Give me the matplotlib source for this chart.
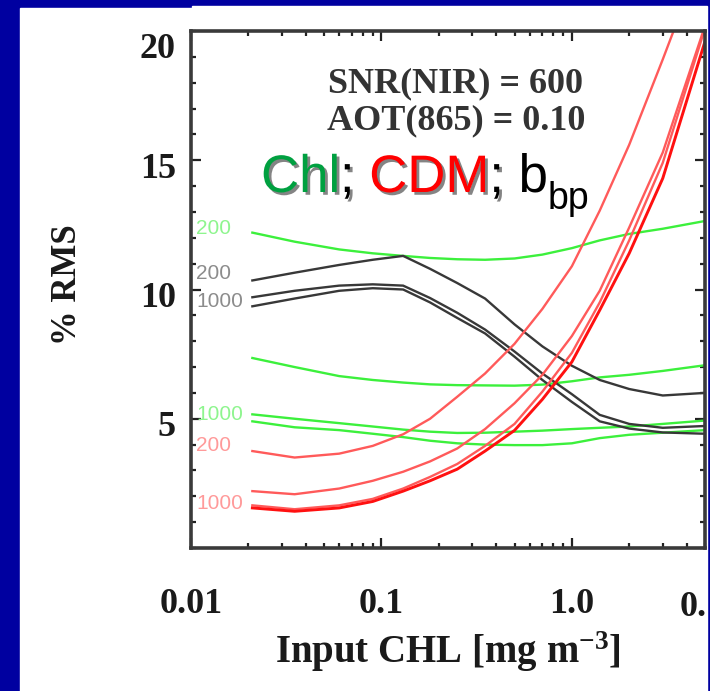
import matplotlib
matplotlib.use("Agg")
import matplotlib.pyplot as plt
import matplotlib.patheffects as pe
from matplotlib.patches import Rectangle
from matplotlib.ticker import FixedLocator, LogLocator, NullFormatter, MultipleLocator
from matplotlib.transforms import blended_transform_factory, offset_copy

plt.rcParams["mathtext.fontset"] = "custom"
plt.rcParams["mathtext.rm"] = "Liberation Serif:bold"
plt.rcParams["mathtext.it"] = "Liberation Serif:bold"
plt.rcParams["mathtext.bf"] = "Liberation Serif:bold"

# ---------------- data ----------------
chl = [0.021, 0.035, 0.06, 0.09, 0.13, 0.18, 0.25, 0.35, 0.5, 0.7, 1.0, 1.4, 2.0, 3.0, 5.0]

chl_200 = [12.2, 11.85, 11.55, 11.4, 11.3, 11.22, 11.17, 11.15, 11.2, 11.35, 11.6, 11.9, 12.15, 12.35, 12.65]
chl_b = [7.35, 7.0, 6.65, 6.5, 6.4, 6.33, 6.3, 6.29, 6.28, 6.32, 6.45, 6.6, 6.7, 6.85, 7.07]
chl_c = [5.17, 5.0, 4.83, 4.7, 4.58, 4.5, 4.45, 4.46, 4.5, 4.54, 4.6, 4.65, 4.7, 4.8, 4.93]
chl_1000 = [4.9, 4.67, 4.56, 4.42, 4.29, 4.15, 4.05, 4.0, 3.98, 3.98, 4.05, 4.25, 4.38, 4.46, 4.56]

bbp_200 = [10.35, 10.65, 10.95, 11.15, 11.3, 10.8, 10.25, 9.65, 8.65, 7.8, 7.05, 6.5, 6.15, 5.9, 6.0]
bbp_b = [9.7, 9.95, 10.15, 10.2, 10.15, 9.67, 9.1, 8.45, 7.6, 6.75, 5.95, 5.15, 4.8, 4.65, 4.72]
bbp_1000 = [9.35, 9.65, 9.95, 10.05, 10.0, 9.5, 8.9, 8.3, 7.4, 6.5, 5.65, 4.9, 4.62, 4.47, 4.42]

cdm_200 = [3.75, 3.5, 3.65, 3.95, 4.4, 5.0, 5.85, 6.75, 7.9, 9.25, 10.9, 13.05, 15.6, 18.9, 23.2]
cdm_b = [2.2, 2.08, 2.3, 2.6, 2.95, 3.35, 3.85, 4.6, 5.6, 6.7, 8.2, 9.95, 12.4, 15.3, 20.2]
cdm_c = [1.65, 1.5, 1.65, 1.9, 2.3, 2.75, 3.25, 3.95, 4.8, 6.05, 7.55, 9.5, 11.9, 14.9, 20.1]
cdm_1000 = [1.55, 1.42, 1.55, 1.8, 2.2, 2.6, 3.05, 3.75, 4.55, 5.75, 7.2, 9.2, 11.4, 14.3, 19.6]

xticks = [0.01, 0.1, 1.0]
xticklabels = ["0.01", "0.1", "1.0"]
yticks = [5, 10, 15, 20]
yticklabels = ["5", "10", "15", "20"]

# labels next to curve starts: (text, y, color)
curve_labels = [
    ("200", 12.35, "#8ef58e"),
    ("200", 10.6, "#8c8c8c"),
    ("1000", 9.55, "#8c8c8c"),
    ("1000", 5.15, "#8ef58e"),
    ("200", 3.95, "#ff9a9a"),
    ("1000", 1.72, "#ff9a9a"),
]

# ---------------- figure ----------------
W, H = 710, 691
fig = plt.figure(figsize=(W / 100, H / 100), dpi=100)
fig.patch.set_facecolor("#0000a0")
fig.add_artist(Rectangle((20 / W, 0), (192 - 20) / W, (H - 8) / H,
                         transform=fig.transFigure, color="white", zorder=0))
fig.add_artist(Rectangle((192 / W, 0), (707 - 192) / W, (H - 6) / H,
                         transform=fig.transFigure, color="white", zorder=0))

L, R, T, B = 191, 705, 31, 548
ax = fig.add_axes([L / W, 1 - B / H, (R - L) / W, (B - T) / H])
ax.set_facecolor("white")

green = "#3cf03c"
dark = "#383838"
red_l = "#ff5a5a"
red_b = "#ff1010"
lw = 1.7

for ys in (chl_200, chl_b, chl_c, chl_1000):
    ax.plot(chl, ys, color=green, lw=lw, solid_joinstyle="round")
for ys in (bbp_200, bbp_b, bbp_1000):
    ax.plot(chl, ys, color=dark, lw=lw, solid_joinstyle="round")
ax.plot(chl, cdm_200, color=red_l, lw=lw, solid_joinstyle="round")
ax.plot(chl, cdm_b, color=red_l, lw=lw, solid_joinstyle="round")
ax.plot(chl, cdm_c, color=red_l, lw=lw, solid_joinstyle="round")
ax.plot(chl, cdm_1000, color=red_b, lw=lw + 0.4, solid_joinstyle="round")

ax.set_xscale("log")
ax.set_xlim(0.01, 5)
ax.set_ylim(0, 20)

ax.xaxis.set_major_locator(FixedLocator(xticks))
ax.xaxis.set_minor_locator(LogLocator(base=10, subs=range(2, 10)))
ax.xaxis.set_minor_formatter(NullFormatter())
ax.set_xticklabels(xticklabels)
ax.yaxis.set_major_locator(FixedLocator(yticks[:-1]))
ax.yaxis.set_minor_locator(MultipleLocator(1))

ax.tick_params(which="both", direction="in", top=True, right=True,
               color="#222222", width=1.6)
ax.tick_params(which="major", length=7)
ax.tick_params(which="minor", length=3.5)
ax.tick_params(axis="x", which="major", pad=29, labelsize=26)
ax.tick_params(axis="y", labelleft=False)
for lbl in ax.get_xticklabels():
    lbl.set_fontfamily("Liberation Serif")
    lbl.set_fontweight("bold")
    lbl.set_color("#1a1a1a")

for s in ax.spines.values():
    s.set_linewidth(2.6)
    s.set_color("#3a3a3a")

serif = dict(family="Liberation Serif", weight="bold", color="#1a1a1a")

# y tick labels
ytrans = blended_transform_factory(ax.transAxes, ax.transData)
for v, t in zip(yticks, yticklabels):
    dy = -14 if v == 20 else -5
    tr = offset_copy(ytrans, fig=fig, x=0, y=dy, units="dots")
    ax.text(-15 / (R - L), v, t, transform=tr, ha="right", va="center_baseline",
            fontsize=26, clip_on=False, **serif)

# truncated last x label
fig.text(680 / W, 1 - 603 / H, "0.", ha="left", va="center_baseline",
         fontsize=26, **serif)

ax.set_xlabel(r"Input CHL [mg m$^{\mathrm{-3}}$]", fontsize=28, labelpad=6, **serif)
fig.text(68 / W, 1 - 285 / H, "% RMS", rotation=90, ha="center", va="center",
         fontsize=25, **serif)

# annotations
ax.text((456 - L) / (R - L), 1 - (84 - T) / (B - T), "SNR(NIR) = 600",
        transform=ax.transAxes, ha="center", va="center", fontsize=26,
        family="Liberation Serif", weight="bold", color="#333333")
ax.text((456 - L) / (R - L), 1 - (121 - T) / (B - T), "AOT(865) = 0.10",
        transform=ax.transAxes, ha="center", va="center", fontsize=26,
        family="Liberation Serif", weight="bold", color="#333333")

shadow = [pe.SimplePatchShadow(offset=(2, -2), shadow_rgbFace="#202020", alpha=0.55),
          pe.Normal()]
sans = dict(family="Liberation Sans", fontsize=38)
t1 = ax.text((261 - L) / (R - L), 1 - (192 - T) / (B - T), "Chl",
             transform=ax.transAxes, ha="left", va="baseline", color="#00a040",
             path_effects=shadow, **sans)
t2 = ax.annotate(";", xy=(1, 0), xycoords=t1, ha="left", va="bottom",
                 color="black", path_effects=shadow, **sans)
t3 = ax.annotate(" CDM", xy=(1, 0), xycoords=t2, ha="left", va="bottom",
                 color="#ff0000", path_effects=shadow, **sans)
t4 = ax.annotate(";", xy=(1, 0), xycoords=t3, ha="left", va="bottom",
                 color="black", path_effects=shadow, **sans)
t5 = ax.annotate(" b", xy=(1, 0), xycoords=t4, ha="left", va="bottom",
                 color="black", **sans)
t6 = ax.annotate("bp", xy=(1, 0), xycoords=t5, xytext=(0, -10),
                 textcoords="offset points", ha="left", va="bottom",
                 color="black", family="Liberation Sans", fontsize=27)

for txt, yv, col in curve_labels:
    ax.text(5 / (R - L), yv, txt, transform=ytrans, ha="left", va="center",
            fontsize=15, color=col, family="Liberation Sans")

fig.savefig("out.png", dpi=100, facecolor=fig.get_facecolor())
